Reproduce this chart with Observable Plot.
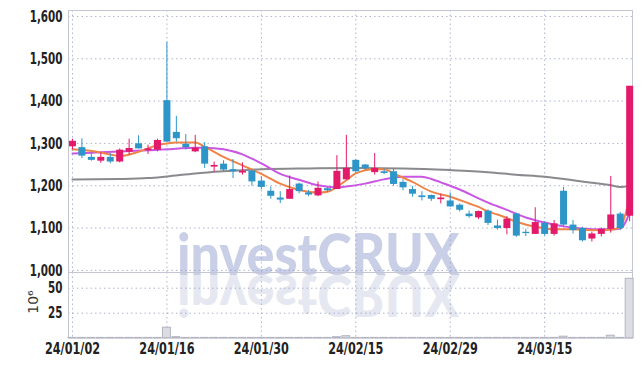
<!DOCTYPE html>
<html><head><meta charset="utf-8">
<script src="https://cdn.jsdelivr.net/npm/d3@7"></script>
<script src="https://cdn.jsdelivr.net/npm/@observablehq/plot@0.6"></script>
<style>
body{margin:0;background:#fff;}
#wrap{position:relative;width:642px;height:366px;overflow:hidden;}
#wm{position:absolute;left:0;top:0;}
#main,#vol{position:absolute;left:0;}
#main{top:0;} #vol{top:272px;}
#main svg{overflow:visible;}
</style></head><body>
<div id="wrap">
<svg id="wm" width="642" height="366">
  <g id="wmfit">
    <text id="wmt" x="0" y="275" font-family="Lato" font-weight="900" font-size="58" fill="#c9cfe6">investCRUX</text>
    <g transform="translate(0,550) scale(1,-1)">
      <text x="0" y="275" font-family="Lato" font-weight="900" font-size="58" fill="#e6e8f1">investCRUX</text>
    </g>
  </g>
</svg>
<div id="main"></div><div id="vol"></div>
</div>
<script>
const dates = ["24/01/02","24/01/03","24/01/04","24/01/05","24/01/08","24/01/09","24/01/10","24/01/11","24/01/12","24/01/15",
"24/01/16","24/01/17","24/01/18","24/01/19","24/01/22","24/01/23","24/01/24","24/01/25","24/01/26","24/01/29",
"24/01/30","24/01/31","24/02/01","24/02/02","24/02/05","24/02/06","24/02/07","24/02/08","24/02/13","24/02/14",
"24/02/15","24/02/16","24/02/19","24/02/20","24/02/21","24/02/22","24/02/23","24/02/26","24/02/27","24/02/28",
"24/02/29","24/03/04","24/03/05","24/03/06","24/03/07","24/03/08","24/03/11","24/03/12","24/03/13","24/03/14",
"24/03/15","24/03/18","24/03/19","24/03/20","24/03/21","24/03/22","24/03/25","24/03/26","24/03/27","24/03/28"];
const open  = [1292,1290,1267,1258,1267,1256,1279,1299,1283,1284,1401,1326,1298,1280,1292,1244,1251,1238,1230,1235,
               1211,1187,1171,1168,1204,1183,1176,1193,1191,1214,1260,1249,1231,1233,1233,1208,1191,1176,1177,1167,
               1164,1154,1133,1124,1140,1105,1099,1133,1090,1085,1111,1085,1187,1107,1099,1074,1085,1097,1133,1128];
const high  = [1310,1311,1278,1278,1276,1287,1310,1318,1296,1310,1539,1364,1321,1319,1302,1256,1259,1262,1254,1238,
               1221,1197,1186,1223,1206,1189,1209,1197,1271,1319,1261,1250,1276,1240,1240,1214,1198,1186,1178,1180,
               1183,1157,1140,1140,1143,1119,1127,1135,1097,1148,1115,1118,1196,1118,1102,1090,1100,1222,1137,1435];
const low   = [1285,1264,1258,1253,1252,1254,1272,1287,1274,1280,1303,1303,1284,1278,1241,1233,1233,1217,1225,1199,
               1190,1168,1158,1168,1181,1174,1174,1184,1191,1213,1230,1236,1225,1226,1199,1188,1173,1164,1163,1157,
               1149,1138,1123,1120,1106,1095,1084,1078,1080,1085,1081,1081,1103,1086,1067,1067,1079,1088,1094,1115];
const close = [1305,1270,1260,1267,1256,1284,1288,1287,1287,1307,1303,1311,1290,1289,1251,1248,1237,1233,1234,1209,
               1196,1175,1166,1191,1186,1178,1194,1188,1234,1241,1233,1241,1241,1229,1203,1195,1180,1172,1168,1171,
               1150,1142,1127,1139,1111,1099,1121,1081,1087,1113,1085,1110,1107,1094,1070,1086,1097,1131,1099,1435];
const volume = [0.3,0.3,0.3,0.3,0.3,0.3,0.3,0.3,0.3,0.3,10.5,1,0.3,0.3,0.3,0.3,0.3,0.3,0.3,0.3,
                0.3,0.3,0.3,0.3,0.3,0.3,0.3,0.3,1,2,0.3,0.3,0.3,0.3,0.3,0.3,0.3,0.3,0.3,0.3,
                0.3,0.3,0.3,0.3,0.3,0.3,0.3,0.3,0.3,0.3,0.3,0.3,1.5,0.3,0.3,0.3,0.3,2.5,0.3,59.4];
// moving averages: [candle index, value]
const ma5 = [[0,1286],[2,1282],[4,1274],[5,1270],[7,1280],[8,1288],[9,1296],[10,1300],[11,1302],[13,1302],[14,1292],
  [16,1268],[18,1248],[20,1228],[22,1205],[24,1190],[26,1184],[27,1186],[28,1197],[29,1213],[30,1229],[32,1239],[33,1239],
  [34,1229],[36,1209],[38,1186],[40,1174],[42,1158],[43,1150],[44,1139],[45,1132],[47,1115],[49,1103],[51,1097],[53,1097],
  [55,1095],[57,1096],[58,1103],[59,1172]];
const ma10 = [[0,1276],[3,1279],[5,1281],[8,1284],[10,1286],[12,1289],[13,1290],[14,1290],[16,1286],[18,1274],[19,1264],
  [20,1253],[22,1228],[24,1214],[26,1201],[28,1196],[29,1198],[31,1205],[33,1215],[35,1221],[37,1221],[38,1216],[39,1208],
  [41,1191],[43,1170],[44,1160],[46,1143],[48,1125],[50,1113],[52,1104],[54,1099],[56,1097],[57,1097],[58,1099],[59,1136]];
const ma60 = [[0,1215],[5,1216],[8,1218],[10,1222],[13,1229],[16,1234],[20,1239],[25,1241],[30,1242],[35,1241],[40,1237],
  [44,1232],[47,1226],[50,1221],[53,1213],[55,1207],[57,1201],[58,1197],[59,1200]];
const xTickLabels = ["24/01/02","24/01/16","24/01/30","24/02/15","24/02/29","24/03/15"];
const yTicks = [1000,1100,1200,1300,1400,1500,1600];
const volTicks = [25,50];
const volLabel = "10⁶";

const RED = "#e3196a", BLUE = "#2e95c8";
const FONT = "'DejaVu Sans Condensed','DejaVu Sans',sans-serif";
const xTicks = xTickLabels.map(l => dates.indexOf(l));
const candles = dates.map((d, i) => ({i, o: open[i], h: high[i], l: low[i], c: close[i], col: close[i] >= open[i] ? RED : BLUE}));
const vols = volume.map((v, i) => ({i, v}));
const xDomain = [-0.42, 59.3];
const gridStyle = {stroke: "#9aa0c4", strokeOpacity: 0.8, strokeDasharray: "1.5,3"};
const toLine = a => a.map(([i, v]) => ({i, v}));
const textStyle = {background: "transparent", fontFamily: FONT, fontSize: "16px", fontWeight: "bold", color: "#222", overflow: "visible"};

const main = Plot.plot({
  width: 642, height: 272, marginTop: 10, marginBottom: 0, marginLeft: 68, marginRight: 10,
  style: textStyle,
  x: {domain: xDomain, axis: null},
  y: {domain: [995, 1614]},
  color: {type: "identity"},
  marks: [
    Plot.gridY(yTicks, gridStyle),
    Plot.gridX(xTicks, gridStyle),
    Plot.frame({stroke: "#c4c6d4"}),
    Plot.axisY(yTicks, {tickSize: 0, tickPadding: 6, tickFormat: d3.format(","), label: null}),
    Plot.line(toLine(ma60), {x: "i", y: "v", stroke: "#8a8a8e", strokeWidth: 2, curve: "monotone-x"}),
    Plot.line(toLine(ma10), {x: "i", y: "v", stroke: "#c957e3", strokeWidth: 2, curve: "monotone-x"}),
    Plot.line(toLine(ma5), {x: "i", y: "v", stroke: "#ef8448", strokeWidth: 2, curve: "monotone-x"}),
    Plot.ruleX(candles, {x: "i", y1: "l", y2: "h", stroke: "col", strokeWidth: 1}),
    Plot.ruleX(candles, {x: "i", y1: "o", y2: "c", stroke: "col", strokeWidth: 7})
  ]
});
document.getElementById("main").append(main);

const vol = Plot.plot({
  width: 642, height: 94, marginTop: 0, marginBottom: 28.3, marginLeft: 68, marginRight: 10,
  style: textStyle,
  x: {domain: xDomain},
  y: {domain: [0, 65.7]},
  marks: [
    Plot.gridY(volTicks, gridStyle),
    Plot.gridX(xTicks, gridStyle),
    Plot.frame({stroke: "#c4c6d4"}),
    Plot.rectY(vols, {x1: d => d.i - 0.42, x2: d => d.i + 0.42, y: "v", fill: "#dcdce4", stroke: "#b4b4c0", strokeWidth: 1}),
    Plot.axisY(volTicks, {tickSize: 0, tickPadding: 6, label: null}),
    Plot.axisX(xTicks, {tickSize: 0, tickPadding: 4, tickFormat: i => dates[i], label: null})
  ]
});
document.getElementById("vol").append(vol);

// narrow the tick label glyphs to match the condensed face of the original
document.querySelectorAll('#main g[aria-label="y-axis tick label"] text, #vol g[aria-label="y-axis tick label"] text').forEach(t => {
  t.setAttribute("textLength", (t.getComputedTextLength() * 0.72).toFixed(1));
  t.setAttribute("lengthAdjust", "spacingAndGlyphs");
});
document.querySelectorAll('#vol g[aria-label="x-axis tick label"] text').forEach(t => {
  t.setAttribute("textLength", (t.getComputedTextLength() * 0.78).toFixed(1));
  t.setAttribute("lengthAdjust", "spacingAndGlyphs");
});

// fit the watermark between x = 177 and x = 460
const wmt = document.getElementById("wmt");
const bb = wmt.getBBox();
const sx = 283 / bb.width;
document.getElementById("wmfit").setAttribute("transform", `translate(177,0) scale(${sx},1) translate(${-bb.x},0)`);

// y-axis unit label of the volume panel
const ns = "http://www.w3.org/2000/svg";
const lab = document.createElementNS(ns, "text");
lab.textContent = volLabel;
lab.setAttribute("transform", "translate(38,302) rotate(-90)");
lab.setAttribute("text-anchor", "middle");
lab.setAttribute("font-family", "DejaVu Sans");
lab.setAttribute("font-size", "14");
lab.setAttribute("fill", "#333");
document.getElementById("wm").append(lab);
</script>
</body></html>
